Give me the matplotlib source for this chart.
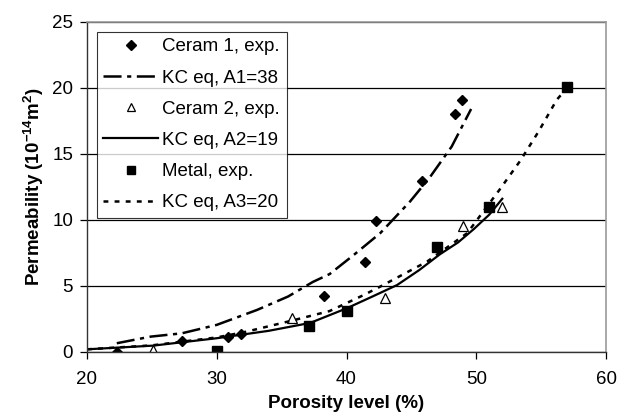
import numpy as np
import matplotlib
matplotlib.use("Agg")
import matplotlib.pyplot as plt

plt.rcParams['font.family'] = ['Liberation Sans', 'DejaVu Sans']
plt.rcParams['mathtext.fontset'] = 'custom'
plt.rcParams['mathtext.rm'] = 'Liberation Sans'
plt.rcParams['mathtext.bf'] = 'Liberation Sans:bold'
plt.rcParams['lines.scale_dashes'] = False

# experimental points
c1_x = [22.3, 27.3, 30.9, 31.9, 38.3, 41.4, 42.25, 45.85, 48.36, 48.9]
c1_y = [0.0, 0.86, 1.16, 1.39, 4.2, 6.8, 9.9, 12.95, 18.0, 19.1]

c2_x = [25.1, 35.8, 43.0, 49.0, 52.0]
c2_y = [0.15, 2.6, 4.05, 9.55, 11.0]

m_x = [30.0, 37.1, 40.06, 47.0, 51.0, 57.0]
m_y = [0.08, 2.0, 3.1, 7.97, 11.0, 20.05]

# KC equation curves
kc1_x = [22.3, 24.9, 27.3, 30.0, 33.1, 35.5, 37.4, 38.7, 40.5, 42.6, 44.9, 46.4, 48.1, 49.6]
kc1_y = [0.66, 1.16, 1.41, 2.05, 3.18, 4.2, 5.3, 5.9, 7.3, 9.0, 11.4, 13.2, 15.55, 18.4]

kc2_x = [20.0, 25.1, 30.0, 34.0, 37.2, 40.0, 42.0, 43.9, 45.6, 47.2, 48.6, 49.8, 51.0, 52.0]
kc2_y = [0.2, 0.48, 1.04, 1.6, 2.2, 3.3, 4.2, 5.07, 6.2, 7.4, 8.3, 9.3, 10.4, 11.6]

kc3_x = [20.0, 25.0, 30.0, 32.3, 35.9, 38.7, 41.3, 42.6, 46.2, 49.3, 51.8, 53.4, 54.8, 56.2, 57.0]
kc3_y = [0.2, 0.5, 1.1, 1.54, 2.4, 3.1, 4.3, 4.95, 6.84, 9.0, 12.3, 14.5, 16.7, 19.1, 20.0]

fig = plt.figure(figsize=(6.21, 4.2), dpi=100)
ax = fig.add_axes([0.140, 0.162, 0.836, 0.786])

ax.plot(c1_x, c1_y, linestyle='none', marker='D', color='black', markersize=5.5,
        label='Ceram 1, exp.')
ax.plot(kc1_x, kc1_y, color='black', linewidth=1.8, dashes=(13, 4, 3, 4),
        label='KC eq, A1=38')
ax.plot(c2_x, c2_y, linestyle='none', marker='^', color='black', markerfacecolor='white',
        markersize=7, markeredgewidth=0.9, label='Ceram 2, exp.')
ax.plot(kc2_x, kc2_y, color='black', linewidth=1.6, label='KC eq, A2=19')
ax.plot(m_x, m_y, linestyle='none', marker='s', color='black', markersize=6.5,
        label='Metal, exp.')
ax.plot(kc3_x, kc3_y, color='black', linewidth=1.8, dashes=(3.5, 4.5),
        label='KC eq, A3=20')

ax.set_xlim(20, 60)
ax.set_ylim(0, 25)
ax.set_xticks([20, 30, 40, 50, 60])
ax.set_yticks([0, 5, 10, 15, 20, 25])
ax.yaxis.grid(True, color='black', linewidth=0.9)
ax.set_axisbelow(True)
ax.tick_params(labelsize=13.5, direction='out', length=5, width=0.9)
ax.tick_params(axis='x', pad=9)
ax.tick_params(axis='y', pad=5)

for side in ['top', 'right']:
    ax.spines[side].set_color('#999999')
    ax.spines[side].set_linewidth(1.2)
for side in ['left', 'bottom']:
    ax.spines[side].set_color('#333333')
    ax.spines[side].set_linewidth(1.0)

ax.set_xlabel('Porosity level (%)', fontsize=13.5, fontweight='bold', labelpad=5)
ax.set_ylabel(r'Permeability (10$^{\mathbf{-14}}$m$^{\mathbf{2}}$)', fontsize=13.5,
              fontweight='bold', labelpad=4)

leg = ax.legend(loc='upper left', bbox_to_anchor=(0.019, 0.970), borderaxespad=0,
                fontsize=13.5, frameon=True, fancybox=False, edgecolor='black',
                handlelength=2.9, handletextpad=0.25, labelspacing=0.75,
                borderpad=0.35, markerscale=0.85)
leg.get_frame().set_linewidth(0.8)

fig.savefig('out.png', dpi=100)
